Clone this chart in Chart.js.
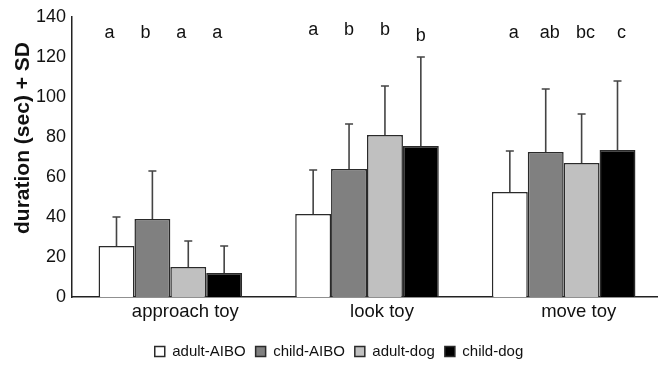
<!DOCTYPE html>
<html>
<head>
<meta charset="utf-8">
<script src="https://cdn.jsdelivr.net/npm/chart.js@4/dist/chart.umd.min.js"></script>
<style>
  html, body { margin: 0; padding: 0; background: #fff; }
  #wrap { width: 658px; height: 365px; overflow: hidden; position: relative; }
  #box { width: 662px; height: 369px; }
</style>
</head>
<body>
<div id="wrap"><div id="box"><canvas id="myChart"></canvas></div></div>
<script>
var categories = ['approach toy', 'look toy', 'move toy'];
var seriesNames = ['adult-AIBO', 'child-AIBO', 'adult-dog', 'child-dog'];

var adultAibo = [25.5, 41.5, 52.5];
var childAibo = [39, 64, 72.5];
var adultDog = [15, 81, 67];
var childDog = [12, 75.5, 73.5];

var adultAiboSd = [14.5, 22, 20.5];
var childAiboSd = [24, 22.5, 31.5];
var adultDogSd = [13, 24.5, 24.5];
var childDogSd = [13.5, 44.5, 34.5];

// significance letters, one row per category
var groupLetters = [
    ['a', 'b', 'a', 'a'],
    ['a', 'b', 'b', 'b'],
    ['a', 'ab', 'bc', 'c']
];

var yTicks = [0, 20, 40, 60, 80, 100, 120, 140];

var sds = [adultAiboSd, childAiboSd, adultDogSd, childDogSd];
var fills = ['#ffffff', '#808080', '#c0c0c0', '#000000'];

// error bars (+SD only)
var errorBars = {
    id: 'errorBars',
    afterDatasetsDraw: function(chart) {
        var ctx = chart.ctx;
        var y = chart.scales.y;
        ctx.save();
        ctx.strokeStyle = '#444';
        ctx.lineWidth = 1.6;
        chart.data.datasets.forEach(function(ds, i) {
            var meta = chart.getDatasetMeta(i);
            meta.data.forEach(function(bar, j) {
                var top = y.getPixelForValue(ds.data[j] + sds[i][j]);
                ctx.beginPath();
                ctx.moveTo(bar.x, bar.y);
                ctx.lineTo(bar.x, top);
                ctx.moveTo(bar.x - 4, top);
                ctx.lineTo(bar.x + 4, top);
                ctx.stroke();
            });
        });
        ctx.restore();
    }
};

// letters above the groups + rotated y title
var extras = {
    id: 'extras',
    afterDraw: function(chart) {
        var ctx = chart.ctx;
        var y = chart.scales.y;
        var shift = [-7, 0, 4];
        ctx.save();
        ctx.fillStyle = '#111';
        ctx.font = '18px "Liberation Sans", Arial, sans-serif';
        ctx.textAlign = 'center';
        ctx.textBaseline = 'alphabetic';
        groupLetters.forEach(function(row, j) {
            row.forEach(function(txt, i) {
                var bar = chart.getDatasetMeta(i).data[j];
                var base = y.getPixelForValue(129.5);
                if (j == 1) base -= 3;
                if (j == 1 && i == 3) base += 6;
                ctx.fillText(txt, bar.x + shift[j], base);
            });
        });
        ctx.translate(23, 138);
        ctx.rotate(-Math.PI / 2);
        ctx.font = 'bold 21px "Liberation Sans", Arial, sans-serif';
        ctx.textBaseline = 'middle';
        ctx.fillText('duration (sec) + SD', 0, 0);
        ctx.restore();
    }
};

var datasets = [adultAibo, childAibo, adultDog, childDog].map(function(vals, i) {
    return {
        label: seriesNames[i],
        data: vals,
        backgroundColor: fills[i],
        borderColor: '#2a2a2a',
        borderWidth: 1.5,
        categoryPercentage: 0.73,
        barPercentage: 1
    };
});

var ctx = document.querySelector('#myChart').getContext('2d');
var myChart = new Chart(ctx, {
    type: 'bar',
    data: { labels: categories, datasets: datasets },
    plugins: [errorBars, extras],
    options: {
        responsive: true,
        maintainAspectRatio: false,
        animation: false,
        devicePixelRatio: 1,
        layout: { padding: { left: 16, right: 0, top: 17, bottom: 0 } },
        plugins: {
            tooltip: { enabled: false },
            legend: {
                position: 'bottom',
                labels: {
                    boxWidth: 10,
                    boxHeight: 10,
                    padding: 10,
                    color: '#111',
                    font: { size: 15, family: '"Liberation Sans", Arial, sans-serif' }
                }
            }
        },
        scales: {
            x: {
                grid: { display: false, drawTicks: false },
                border: { display: true, color: '#222', width: 1.5 },
                ticks: {
                    padding: 4,
                    labelOffset: 15,
                    color: '#111',
                    font: { size: 18.5, family: '"Liberation Sans", Arial, sans-serif' }
                },
                afterFit: function(s) { s.height = 37; }
            },
            y: {
                min: 0,
                max: 140,
                afterBuildTicks: function(s) {
                    s.ticks = yTicks.map(function(v) { return { value: v }; });
                },
                grid: { display: false, drawTicks: false },
                border: { display: true, color: '#222', width: 1.5 },
                ticks: {
                    padding: 6,
                    color: '#111',
                    font: { size: 18, family: '"Liberation Sans", Arial, sans-serif' }
                },
                afterFit: function(s) { s.width = 56; }
            }
        }
    }
});
</script>
</body>
</html>
